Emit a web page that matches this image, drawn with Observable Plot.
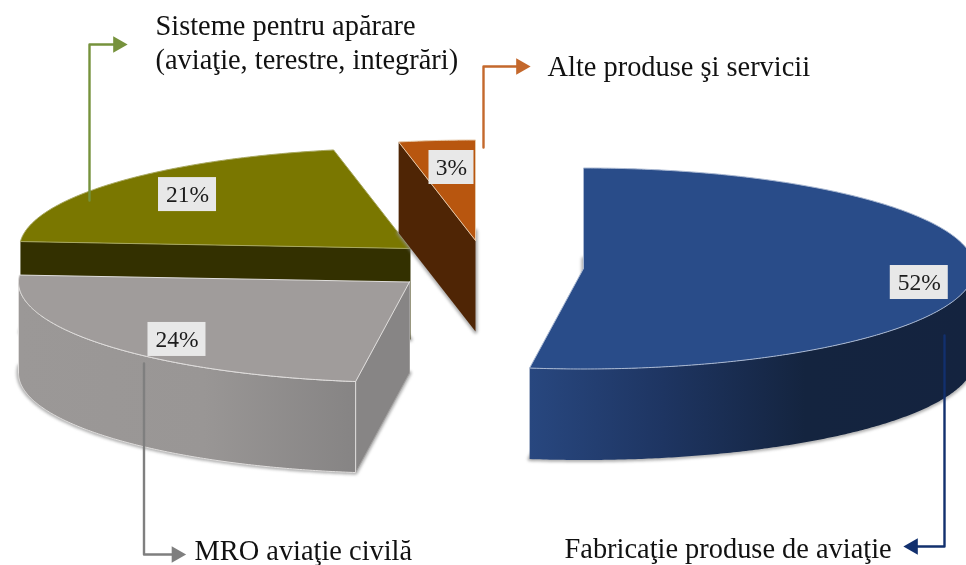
<!DOCTYPE html>
<html lang="ro">
<head>
<meta charset="utf-8">
<script src="https://cdn.jsdelivr.net/npm/d3@7"></script>
<script src="https://cdn.jsdelivr.net/npm/@observablehq/plot@0.6"></script>
<style>
  html, body { margin: 0; padding: 0; background: #fff; }
  svg { display: block; }
  .soft { filter: blur(1.4px); }
  text { font-family: "Liberation Serif", serif; filter: blur(0.3px); }
</style>
</head>
<body>
<div id="chart"></div>
<script>
// Data, clockwise from 12 o'clock.
const sliceKeys = ["fabricatie", "mro", "aparare", "alte"];
const sliceValues = [52.2, 23.9, 20.75, 3.15];
const sliceNames = ["Fabricaţie produse de aviaţie", "MRO aviaţie civilă", "Sisteme pentru apărare\n(aviaţie, terestre, integrări)", "Alte produse şi servicii"];

// Styles, one per slice.
const topColors = ["#294c89", "#a09c9b", "#7a7700", "#b8560f"];
const wallColors = ["#16284a", "#878585", "#333000", "#4f2505"];
const sideFills = ["url(#sideBlue)", "url(#sideGray)", "#333000", "#4f2505"];
const edgeColors = ["#a9b8d2", "#e0dedd", "#a8a860", "#e6c8a8"];
const leaderColors = ["#12306e", "#7f7f7f", "#76923c", "#c4682c"];

// Layout of the exploded, tilted pie.
const radiusX = 391, radiusY = 100.5, depth = 91;
const centers = [[583, 268], [409, 281.5], [410, 248], [475, 240]];
// Label place in each slice: radius share, share of the slice's sweep.
const labelPolar = [[0.87, 0.528], [0.825, 0.444], [0.783, 0.526], [0.729, 0.574]];
const labelBox = [[58, 34], [58, 34], [58, 34], [45, 34]];
const leaderPaths = [
  [[944, 335], [944, 546], [912.5, 546]],
  [[143.5, 363], [143.5, 554], [176, 554]],
  [[89, 200], [89, 44], [117.5, 44]],
  [[483, 147], [483, 66], [520.5, 66]]
];
const headRotation = [-90, 90, 90, 90];
const textAnchors = [[564, 557], [194, 559], [155, 68.5], [547, 75]];

const arcs = d3.pie().sort(null).value(d => d)(sliceValues);
const step = Math.PI / 360;

const at = (i, a, r = 1, z = 0) => ({
  x: centers[i][0] + r * radiusX * Math.sin(a),
  y: centers[i][1] - r * radiusY * Math.cos(a) + z
});
const sweep = (a0, a1) => {
  const n = Math.max(1, Math.ceil(Math.abs(a1 - a0) / step));
  return d3.range(n + 1).map(k => a0 + (a1 - a0) * k / n);
};
const close = pts => [...pts, pts[0]];

const apex = (i, z = 0) => ({x: centers[i][0], y: centers[i][1] + z});
const topFace = i => close([apex(i), ...sweep(arcs[i].startAngle, arcs[i].endAngle).map(a => at(i, a))]);
const bottomFace = i => close([apex(i, depth), ...sweep(arcs[i].startAngle, arcs[i].endAngle).map(a => at(i, a, 1, depth))]);
const outerSide = i => {
  // Only the part of the rim that faces the viewer.
  const a0 = Math.max(arcs[i].startAngle, Math.PI / 2);
  const a1 = Math.min(arcs[i].endAngle, Math.PI * 1.5);
  if (a1 <= a0) return [];
  const s = sweep(a0, a1);
  return close([...s.map(a => at(i, a)), ...s.slice().reverse().map(a => at(i, a, 1, depth))]);
};
const wall = (i, a) => close([apex(i), at(i, a), at(i, a, 1, depth), apex(i, depth)]);

const face = (pts, fill, stroke = "none", strokeWidth = 1, extra = {}) =>
  Plot.line(pts, {x: "x", y: "y", fill, stroke, strokeWidth, curve: "linear", ...extra});

const gradients = () => {
  const defs = d3.create("svg:defs");
  defs.html(`
    <linearGradient id="sideBlue">
      <stop offset="0" stop-color="#28477f"/>
      <stop offset="0.3" stop-color="#1e3562"/>
      <stop offset="0.62" stop-color="#14243f"/>
      <stop offset="1" stop-color="#14233f"/>
    </linearGradient>
    <linearGradient id="sideGray">
      <stop offset="0" stop-color="#9b9897"/>
      <stop offset="0.55" stop-color="#999695"/>
      <stop offset="1" stop-color="#868484"/>
    </linearGradient>`);
  return defs.node();
};

// Painter's order, back to front: olive, gray, orange, blue.
const drawOrder = [2, 1, 3, 0];
const sliceMarks = i => [
  face(bottomFace(i), "none", "#8f8f8f", 4, {className: "soft", strokeOpacity: 0.75}),
  i === 2 ? face(wall(2, arcs[2].startAngle), wallColors[2]) : null,
  i === 3 ? face(wall(3, arcs[3].startAngle), wallColors[3]) : null,
  i === 1 ? face(wall(1, arcs[1].startAngle), wallColors[1], "#a09e9d", 1) : null,
  outerSide(i).length ? face(outerSide(i), sideFills[i], i === 1 ? edgeColors[1] : "none", 1) : null,
  face(topFace(i), topColors[i], edgeColors[i], 1)
];

const labels = sliceKeys.map((key, i) => {
  const a = arcs[i].startAngle + (arcs[i].endAngle - arcs[i].startAngle) * labelPolar[i][1];
  const p = at(i, a, labelPolar[i][0]);
  return {key, text: `${Math.round(sliceValues[i])}%`, x: p.x, y: p.y, w: labelBox[i][0], h: labelBox[i][1]};
});

const leaderData = leaderPaths.flatMap((pts, i) => pts.map(([x, y]) => ({x, y, key: sliceKeys[i], i})));
const headData = leaderPaths.map((pts, i) => ({x: pts[pts.length - 1][0], y: pts[pts.length - 1][1], i}));
const nameData = sliceNames.map((text, i) => ({text, x: textAnchors[i][0], y: textAnchors[i][1]}));

const chart = Plot.plot({
  width: 966,
  height: 565,
  margin: 0,
  style: {background: "#fff", overflow: "hidden"},
  x: {domain: [0, 966], axis: null},
  y: {domain: [565, 0], axis: null},
  marks: [
    gradients,
    ...drawOrder.flatMap(sliceMarks),
    Plot.line(leaderData, {x: "x", y: "y", z: "key", stroke: d => leaderColors[d.i], strokeWidth: 2.4}),
    Plot.dot(headData, {x: "x", y: "y", symbol: "triangle", r: 6.2, fill: d => leaderColors[d.i], stroke: "none", rotate: d => headRotation[d.i]}),
    Plot.rect(labels, {x1: d => d.x - d.w / 2, x2: d => d.x + d.w / 2, y1: d => d.y - d.h / 2, y2: d => d.y + d.h / 2, fill: "#e8e8e8"}),
    Plot.text(labels, {x: "x", y: "y", text: "text", fontSize: 23.5, fill: "#1c1c1c", fontFamily: "Liberation Serif"}),
    Plot.text(nameData, {x: "x", y: "y", text: "text", textAnchor: "start", lineAnchor: "bottom", lineHeight: 1.19, fontSize: 28.4, fill: "#111", fontFamily: "Liberation Serif"})
  ]
});
document.getElementById("chart").append(chart);
</script>
</body>
</html>
